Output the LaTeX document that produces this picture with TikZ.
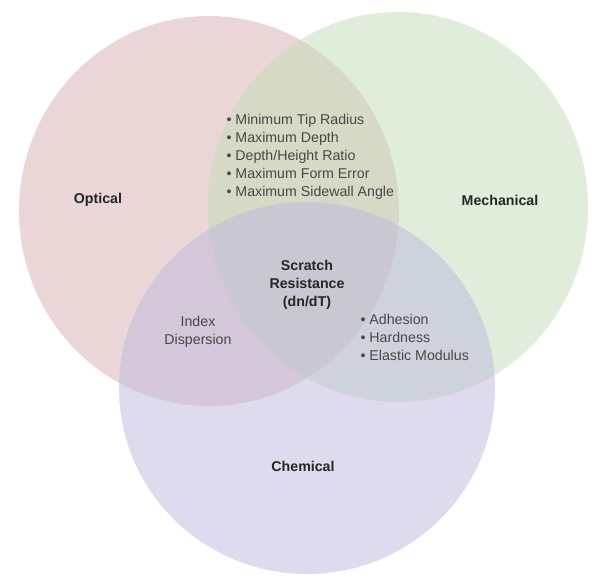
\documentclass[tikz,border=0pt]{standalone}
\usepackage{fontspec}
\setmainfont{Liberation Sans}
\usepackage{tikz}
\usetikzlibrary{shapes.geometric}

\definecolor{optred}{RGB}{215,175,175}
\definecolor{mechgreen}{RGB}{197,221,185}
\definecolor{chemblue}{RGB}{189,185,221}

\begin{document}
\begin{tikzpicture}[x=1pt,y=-1pt,
                    set/.style={ellipse,draw=none,inner sep=0pt,
                                minimum width=380pt,minimum height=390pt,
                                fill opacity=0.5},
                    head/.style={font=\fontsize{14.2}{18}\selectfont\bfseries,
                                 text=black!85,align=center},
                    item/.style={font=\fontsize{14.2}{18}\selectfont,
                                 text=black!72}]
  \fill[white] (0,0) rectangle (597,576);
  \useasboundingbox (0,0) rectangle (597,576);

  % the three sets
  \node[set,fill=optred]    (O) at (209,211) {};
  \node[set,fill=mechgreen] (M) at (398,207) {};
  \node[set,fill=chemblue,minimum width=376pt,minimum height=372pt]
                            (C) at (307,388) {};

  \node[head] (Olbl) at (98,200)  {Optical};
  \node[head] (Mlbl) at (500,200) {Mechanical};
  \node[head] (Clbl) at (303,466) {Chemical};

  \node[head]                (SR) at (307,285) {Scratch\\Resistance\\(dn/dT)};
  \node[item,align=center]   (OC) at (198,332) {Index\\Dispersion};
  \node[item,align=left,anchor=west] (OM) at (223,157)
       {\textbullet\ Minimum Tip Radius\\
        \textbullet\ Maximum Depth\\
        \textbullet\ Depth/Height Ratio\\
        \textbullet\ Maximum Form Error\\
        \textbullet\ Maximum Sidewall Angle};
  \node[item,align=left,anchor=west] (MC) at (357,337)
       {\textbullet\ Adhesion\\
        \textbullet\ Hardness\\
        \textbullet\ Elastic Modulus};
\end{tikzpicture}
\end{document}
